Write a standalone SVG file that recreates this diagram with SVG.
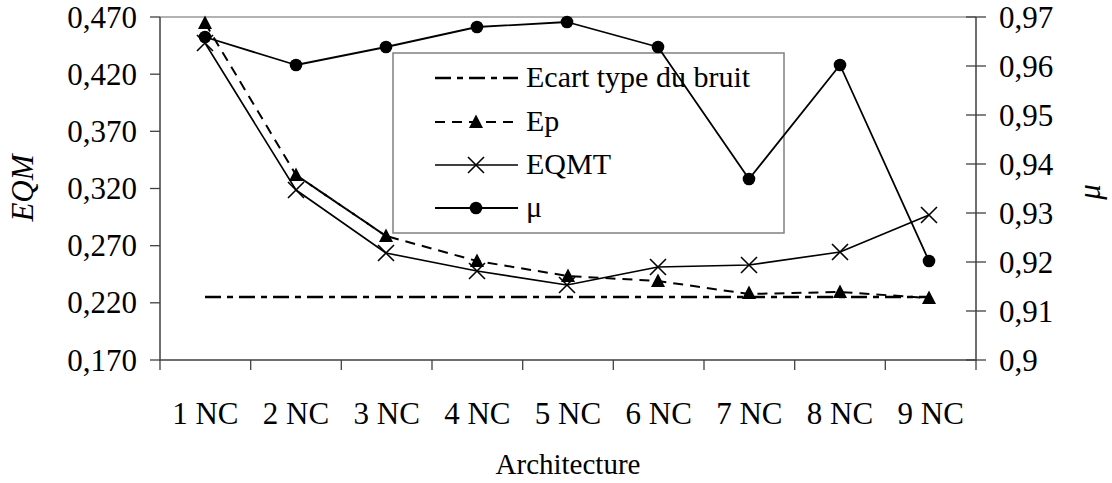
<svg xmlns="http://www.w3.org/2000/svg" width="1112" height="483" viewBox="0 0 1112 483">
<style>
text{font-family:"Liberation Serif","Tinos","Times New Roman","DejaVu Serif",serif;fill:#000}
.tl{font-size:31px}
.axis{stroke:#404040;stroke-width:1.5;fill:none}
.tick{stroke:#404040;stroke-width:1.3}
.s{fill:none;stroke:#000;stroke-linejoin:round}
.ecart{stroke-width:2.5;stroke-dasharray:16 6 6 6}
.ep{stroke-width:2;stroke-dasharray:10 7}
.eqmt{stroke-width:1.6}
.mu{stroke-width:1.8}
.x{stroke:#000;stroke-width:1.6;fill:none}
</style>
<defs>
<path id="tri" d="M0,-7.5 L7,6 L-7,6 Z" fill="#000"/>
<path id="cross" d="M-8,-8 L8,8 M-8,8 L8,-8" class="x"/>
<circle id="dot" r="6.3" fill="#000"/>
</defs>
<rect width="1112" height="483" fill="#fff"/>
<g id="axes">
<line x1="160" y1="17" x2="976" y2="17" stroke="#999" stroke-width="1.5"/>
<path class="axis" d="M160,17 V360 H976 V17"/>
<g class="tick">
<line x1="150" y1="17" x2="160" y2="17"/><line x1="150" y1="74.2" x2="160" y2="74.2"/><line x1="150" y1="131.3" x2="160" y2="131.3"/><line x1="150" y1="188.5" x2="160" y2="188.5"/><line x1="150" y1="245.7" x2="160" y2="245.7"/><line x1="150" y1="302.8" x2="160" y2="302.8"/><line x1="150" y1="360" x2="160" y2="360"/>
<line x1="966" y1="17" x2="986" y2="17"/><line x1="966" y1="66" x2="986" y2="66"/><line x1="966" y1="115" x2="986" y2="115"/><line x1="966" y1="164" x2="986" y2="164"/><line x1="966" y1="213" x2="986" y2="213"/><line x1="966" y1="262" x2="986" y2="262"/><line x1="966" y1="311" x2="986" y2="311"/><line x1="966" y1="360" x2="986" y2="360"/>
<line x1="160" y1="360" x2="160" y2="370"/><line x1="250.7" y1="360" x2="250.7" y2="370"/><line x1="341.3" y1="360" x2="341.3" y2="370"/><line x1="432" y1="360" x2="432" y2="370"/><line x1="522.7" y1="360" x2="522.7" y2="370"/><line x1="613.3" y1="360" x2="613.3" y2="370"/><line x1="704" y1="360" x2="704" y2="370"/><line x1="794.7" y1="360" x2="794.7" y2="370"/><line x1="885.3" y1="360" x2="885.3" y2="370"/><line x1="976" y1="360" x2="976" y2="370"/>
</g>
<g class="tl" text-anchor="end">
<text x="137" y="28">0,470</text><text x="137" y="85">0,420</text><text x="137" y="142">0,370</text><text x="137" y="199">0,320</text><text x="137" y="256">0,270</text><text x="137" y="313">0,220</text><text x="137" y="371">0,170</text>
</g>
<g class="tl">
<text x="999" y="28">0,97</text><text x="999" y="77">0,96</text><text x="999" y="126">0,95</text><text x="999" y="175">0,94</text><text x="999" y="224">0,93</text><text x="999" y="273">0,92</text><text x="999" y="322">0,91</text><text x="999" y="371">0,9</text>
</g>
<g class="tl" text-anchor="middle">
<text x="205.3" y="424">1 NC</text><text x="296" y="424">2 NC</text><text x="386.7" y="424">3 NC</text><text x="477.3" y="424">4 NC</text><text x="568" y="424">5 NC</text><text x="658.7" y="424">6 NC</text><text x="749.3" y="424">7 NC</text><text x="840" y="424">8 NC</text><text x="930.7" y="424">9 NC</text>
</g>
<text x="568" y="474" font-size="29" text-anchor="middle">Architecture</text>
<text transform="translate(33,188) rotate(-90)" font-size="31" font-style="italic" text-anchor="middle">EQM</text>
<text transform="translate(1100,192) rotate(-90)" font-size="31" font-style="italic" text-anchor="middle">μ</text>
</g>
<g id="legend">
<rect x="393" y="53" width="391" height="180" fill="none" stroke="#808080" stroke-width="1.5"/>
<line x1="435" y1="78" x2="518" y2="78" class="s ecart"/>
<line x1="435" y1="122" x2="518" y2="122" class="s ep"/>
<use href="#tri" x="476" y="122"/>
<line x1="435" y1="165" x2="518" y2="165" class="s eqmt"/>
<use href="#cross" x="476" y="165"/>
<line x1="435" y1="208" x2="518" y2="208" class="s mu"/>
<use href="#dot" x="476" y="208"/>
<g font-size="30">
<text x="526" y="87">Ecart type du bruit</text>
<text x="526" y="131">Ep</text>
<text x="526" y="174">EQMT</text>
<text x="526" y="217">μ</text>
</g>
</g>
<g id="connectors">
<polyline class="s ecart" points="205,297 929,297"/>
<polyline class="s ep" points="205,23 296,175 386,236 477,261 568,276 658,281 749,294 840,292 929,298"/>
<polyline class="s ep" stroke-width="4" points="296,175 386,236"/>
<polyline class="s eqmt" points="205,43 296,190 386,253 477,271 567,285 658,267 749,265 840,252 929,215"/>
<polyline class="s mu" points="205,37 296,65 386,47 477,27 567,22 658,47 749,179 840,65 929,261"/>
</g>
<g id="markers-ep">
<use href="#tri" x="205" y="23"/><use href="#tri" x="296" y="175"/><use href="#tri" x="386" y="236"/><use href="#tri" x="477" y="261"/><use href="#tri" x="568" y="276"/><use href="#tri" x="658" y="281"/><use href="#tri" x="749" y="293"/><use href="#tri" x="840" y="292"/><use href="#tri" x="929" y="298"/>
</g>
<g id="markers-eqmt">
<use href="#cross" x="205" y="43"/><use href="#cross" x="296" y="190"/><use href="#cross" x="386" y="253"/><use href="#cross" x="477" y="271"/><use href="#cross" x="567" y="285"/><use href="#cross" x="658" y="267"/><use href="#cross" x="749" y="265"/><use href="#cross" x="840" y="252"/><use href="#cross" x="929" y="215"/>
</g>
<g id="markers-mu">
<use href="#dot" x="205" y="37"/><use href="#dot" x="296" y="65"/><use href="#dot" x="386" y="47"/><use href="#dot" x="477" y="27"/><use href="#dot" x="567" y="22"/><use href="#dot" x="658" y="47"/><use href="#dot" x="749" y="179"/><use href="#dot" x="840" y="65"/><use href="#dot" x="929" y="261"/>
</g>
</svg>
